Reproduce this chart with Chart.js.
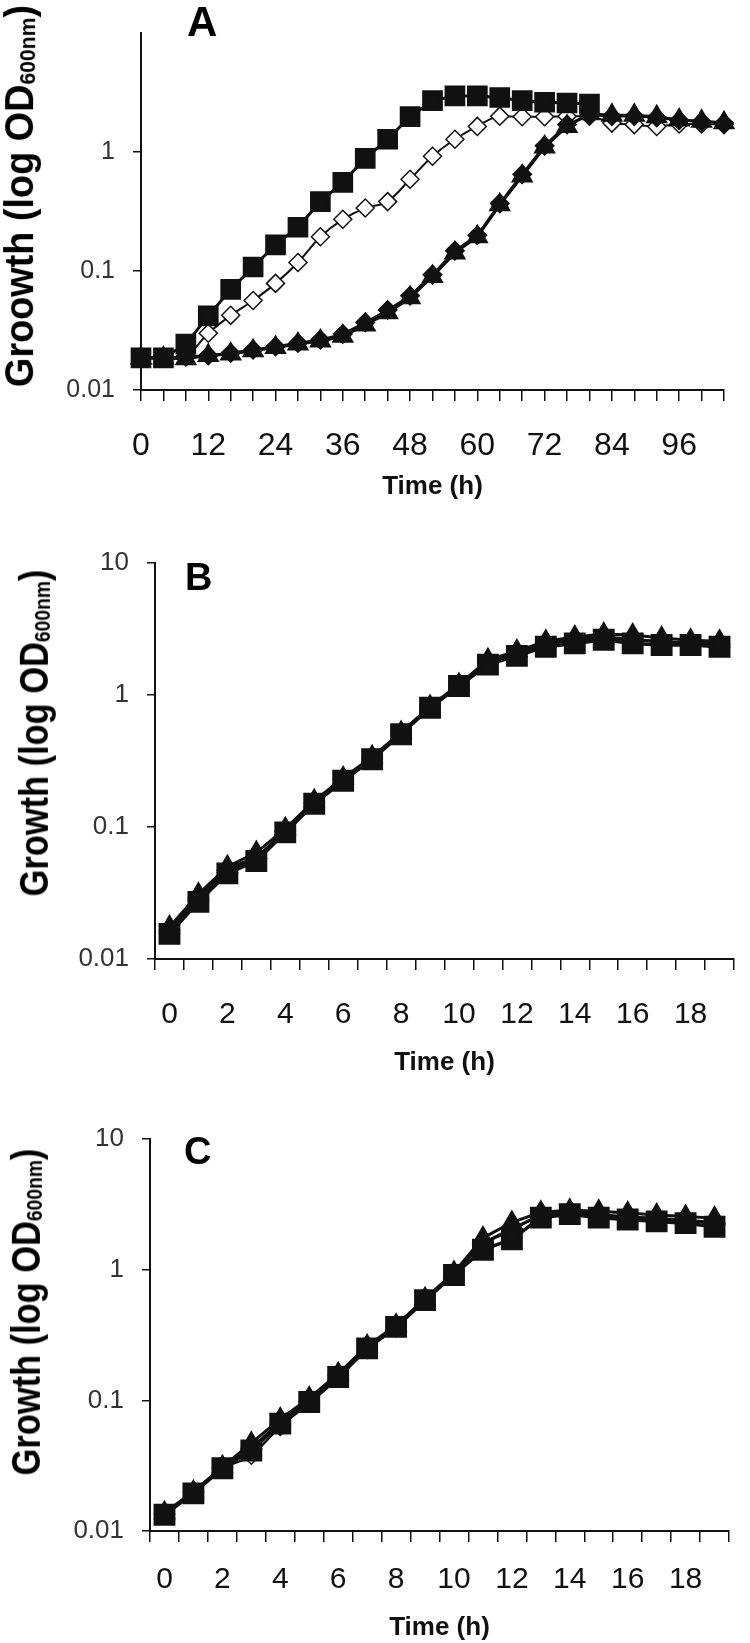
<!DOCTYPE html>
<html>
<head>
<meta charset="utf-8">
<script src="https://cdn.jsdelivr.net/npm/chart.js@4.4.1/dist/chart.umd.min.js"></script>
<style>
  html, body { margin: 0; background: #fff; }
  #page { position: relative; width: 750px; height: 1643px; overflow: hidden; background: #fff; }
  #page canvas { position: absolute; left: 0; }
  .letter { position: absolute; font: bold 42px "Liberation Sans", Arial, sans-serif; line-height: 1; color: #000; }
  .ytitle { position: absolute; white-space: nowrap; font: bold 40px "Liberation Sans", Arial, sans-serif; line-height: 1; color: #000; transform-origin: center center; }
  .ytitle sub { font-size: 0.56em; vertical-align: baseline; position: relative; top: 0.1em; }
</style>
</head>
<body>
<div id="page">
  <canvas id="chartA" width="750" height="505" style="top:0px"></canvas>
  <canvas id="chartB" width="750" height="575" style="top:505px"></canvas>
  <canvas id="chartC" width="750" height="563" style="top:1080px"></canvas>

  <div class="letter" style="left:187px;top:1px;font-size:42px">A</div>
  <div class="letter" style="left:185px;top:558px;font-size:38px">B</div>
  <div class="letter" style="left:184px;top:1132px;font-size:38px">C</div>

  <div class="ytitle" id="ytA">Groowth (log OD<sub>600nm</sub>)</div>
  <div class="ytitle" id="ytB">Growth (log OD<sub>600nm</sub>)</div>
  <div class="ytitle" id="ytC">Growth (log OD<sub>600nm</sub>)</div>
</div>

<script>
/* Três painéis de curva de crescimento (escala log), um canvas por painel. */

// ---- Painel A: leitura a cada 4 h, 0..104 h
const hoursA = [0, 4, 8, 12, 16, 20, 24, 28, 32, 36, 40, 44, 48, 52, 56, 60, 64, 68, 72, 76, 80, 84, 88, 92, 96, 100, 104];
const squaresA = [0.0186, 0.0186, 0.0243, 0.042, 0.070, 0.108, 0.166, 0.233, 0.383, 0.556, 0.885, 1.28, 1.98, 2.70, 2.96, 2.96, 2.87, 2.70, 2.62, 2.58, 2.53];
const openDiamondsA = [0.0186, 0.0186, 0.0195, 0.030, 0.0424, 0.0565, 0.0787, 0.118, 0.194, 0.272, 0.338, 0.383, 0.59, 0.92, 1.28, 1.64, 2.0, 1.98, 1.98, 2.0, 2.0, 1.75, 1.70, 1.64, 1.72, 1.72, 1.70];
const trianglesA = [0.0186, 0.0186, 0.0183, 0.0195, 0.0201, 0.0214, 0.0228, 0.0243, 0.0258, 0.0283, 0.0352, 0.0445, 0.0596, 0.090, 0.142, 0.194, 0.36, 0.628, 1.10, 1.64, 2.10, 2.04, 2.04, 1.98, 1.86, 1.81, 1.76];
const filledDiamondsA = [0.0186, 0.0186, 0.019, 0.0195, 0.0205, 0.0218, 0.0232, 0.0248, 0.0265, 0.0295, 0.037, 0.047, 0.062, 0.093, 0.148, 0.20, 0.37, 0.65, 1.13, 1.70, 2.05, 2.0, 2.0, 1.95, 1.85, 1.80, 1.75];

// ---- Painéis B e C: leitura a cada 1 h, 0..19 h
const hoursBC = [0, 1, 2, 3, 4, 5, 6, 7, 8, 9, 10, 11, 12, 13, 14, 15, 16, 17, 18, 19];
const squaresB = [0.0155, 0.0271, 0.0445, 0.0553, 0.091, 0.150, 0.224, 0.326, 0.504, 0.80, 1.17, 1.70, 1.98, 2.32, 2.46, 2.62, 2.46, 2.39, 2.39, 2.32];
const trianglesB = [0.0175, 0.031, 0.050, 0.064, 0.097, 0.158, 0.235, 0.34, 0.52, 0.82, 1.20, 1.85, 2.15, 2.55, 2.75, 2.90, 2.85, 2.70, 2.60, 2.55];
const openDiamondsB = [0.016, 0.029, 0.048, 0.060, 0.094, 0.153, 0.23, 0.33, 0.51, 0.81, 1.18, 1.78, 2.05, 2.45, 2.65, 2.75, 2.65, 2.55, 2.50, 2.45];
const filledDiamondsB = [0.0165, 0.029, 0.047, 0.058, 0.093, 0.152, 0.228, 0.33, 0.51, 0.81, 1.18, 1.75, 2.05, 2.42, 2.60, 2.72, 2.62, 2.52, 2.48, 2.42];

const squaresC = [0.0133, 0.0194, 0.0302, 0.0413, 0.0664, 0.097, 0.151, 0.25, 0.365, 0.585, 0.91, 1.42, 1.71, 2.50, 2.66, 2.50, 2.42, 2.34, 2.27, 2.13];
const trianglesC = [0.0138, 0.020, 0.031, 0.047, 0.072, 0.104, 0.16, 0.26, 0.375, 0.60, 0.95, 1.75, 2.30, 2.75, 2.85, 2.80, 2.72, 2.62, 2.55, 2.48];
const openDiamondsC = [0.0135, 0.0198, 0.030, 0.038, 0.063, 0.095, 0.148, 0.245, 0.36, 0.58, 0.92, 1.55, 2.0, 2.60, 2.75, 2.65, 2.55, 2.48, 2.40, 2.30];
const filledDiamondsC = [0.0135, 0.0197, 0.0305, 0.043, 0.068, 0.099, 0.154, 0.252, 0.368, 0.59, 0.93, 1.60, 2.05, 2.62, 2.75, 2.62, 2.52, 2.45, 2.38, 2.25];

const yTicksA = [0.01, 0.1, 1];
const yTicksBC = [0.01, 0.1, 1, 10];

const FONT = '"Liberation Sans", Arial, sans-serif';
const INK = '#111';

// estilos das séries
function squares(data, r, lw) {
  return { data, pointStyle: 'rect', pointRadius: r, pointBackgroundColor: INK, pointBorderColor: INK,
    borderColor: INK, borderWidth: lw, clip: false, order: 0 };
}
function triangles(data, r, lw) {
  return { data, pointStyle: 'triangle', pointRadius: r, pointBackgroundColor: INK, pointBorderColor: INK,
    borderColor: INK, borderWidth: lw, clip: false, order: 1 };
}
function filledDiamonds(data, r, lw) {
  return { data, pointStyle: 'rectRot', pointRadius: r, pointBackgroundColor: INK, pointBorderColor: INK,
    borderColor: INK, borderWidth: lw, clip: false, order: 2 };
}
function openDiamonds(data, r, lw) {
  return { data, pointStyle: 'rectRot', pointRadius: r, pointBackgroundColor: '#fff', pointBorderColor: '#111',
    pointBorderWidth: 1.5, borderColor: INK, borderWidth: lw, cubicInterpolationMode: 'monotone', clip: false, order: 3 };
}

// g = geometria do painel (posição do canvas e da área do gráfico, em px da página)
function makeChart(id, g, labels, datasets) {
  return new Chart(document.getElementById(id), {
    type: 'line',
    data: { labels: labels.map(String), datasets },
    options: {
      responsive: false, animation: false, events: [],
      layout: { autoPadding: false, padding: { left: 0, top: g.plotTop - g.top, right: 750 - g.right, bottom: 0 } },
      plugins: { legend: { display: false }, tooltip: { enabled: false } },
      scales: {
        x: {
          type: 'category', offset: g.offset,
          grid: { offset: g.offset, drawOnChartArea: false, color: INK, lineWidth: 1.5, tickLength: 11 },
          border: { color: INK, width: 2 },
          ticks: { autoSkip: false, maxRotation: 0, minRotation: 0, padding: g.xPad, color: '#111',
            font: { family: FONT, size: g.xFont }, callback: (v, i) => g.showLabel(labels[i]) ? String(labels[i]) : '' },
          title: { display: true, text: 'Time (h)', color: '#111', font: { family: FONT, size: 26, weight: 'bold' },
            padding: { top: 0, bottom: g.titlePad } },
          afterFit: s => { s.height = g.top + g.height - g.plotBottom; }
        },
        y: {
          type: 'logarithmic', min: 0.01, max: 10,
          afterBuildTicks: s => { s.ticks = g.yTicks.map(v => ({ value: v })); },
          grid: { drawOnChartArea: false, color: INK, lineWidth: 1.5, tickLength: 8 },
          border: { color: INK, width: 2 },
          ticks: { padding: 18, color: '#333', font: { family: FONT, size: g.yFont }, callback: v => String(v) },
          afterFit: s => { s.width = g.left; }
        }
      }
    }
  });
}

makeChart('chartA',
  { top: 0, height: 505, left: 141, right: 739, plotTop: 18, plotBottom: 390, offset: false,
    xFont: 32, yFont: 25, xPad: 26, titlePad: 3, yTicks: yTicksA, showLabel: h => h % 12 === 0 && h <= 96 },
  hoursA,
  [squares(squaresA, 12.5, 3), triangles(trianglesA, 10, 3), filledDiamonds(filledDiamondsA, 8.5, 2.5), openDiamonds(openDiamondsA, 9, 2)]);

makeChart('chartB',
  { top: 505, height: 575, left: 155, right: 734, plotTop: 563, plotBottom: 959, offset: true,
    xFont: 30, yFont: 26, xPad: 27, titlePad: 2, yTicks: yTicksBC, showLabel: h => h % 2 === 0 },
  hoursBC,
  [squares(squaresB, 13, 3.5), triangles(trianglesB, 10, 3), filledDiamonds(filledDiamondsB, 9, 3), openDiamonds(openDiamondsB, 9, 2.5)]);

makeChart('chartC',
  { top: 1080, height: 563, left: 150, right: 729, plotTop: 1139, plotBottom: 1531, offset: true,
    xFont: 30, yFont: 26, xPad: 20, titlePad: 0, yTicks: yTicksBC, showLabel: h => h % 2 === 0 },
  hoursBC,
  [squares(squaresC, 13, 3.5), triangles(trianglesC, 10, 3), filledDiamonds(filledDiamondsC, 9, 3), openDiamonds(openDiamondsC, 9, 2.5)]);

// títulos do eixo y: girados e comprimidos até o comprimento medido na figura
function placeTitle(id, cx, cy, len) {
  const el = document.getElementById(id);
  const w = el.offsetWidth, h = el.offsetHeight;
  el.style.left = (cx - w / 2) + 'px';
  el.style.top = (cy - h / 2) + 'px';
  el.style.transform = `rotate(-90deg) scaleX(${len / w})`;
}
placeTitle('ytA', 19, 196, 382);
placeTitle('ytB', 34, 733, 327);
placeTitle('ytC', 26, 1312, 327);
</script>
</body>
</html>
